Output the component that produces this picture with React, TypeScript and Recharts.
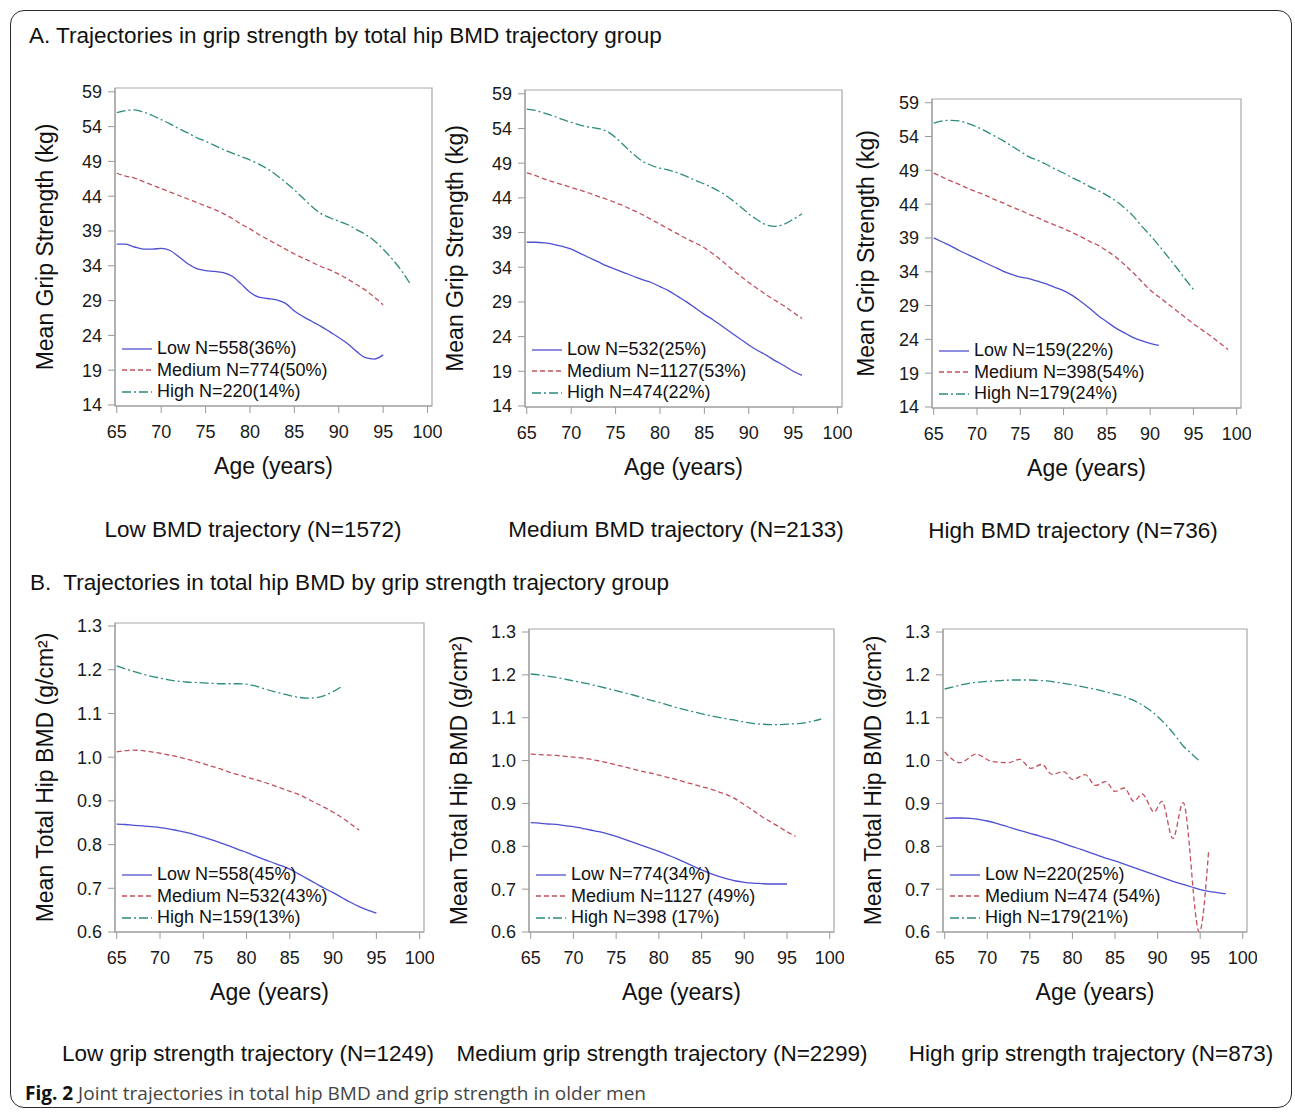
import React from 'react';
import { LineChart, Line, XAxis, YAxis, Legend, ReferenceArea } from 'recharts';

// ages on the x axis (one value per year, series stop where the curve ends)
const ages = [65, 66, 67, 68, 69, 70, 71, 72, 73, 74, 75, 76, 77, 78, 79, 80, 81, 82, 83, 84, 85, 86, 87, 88, 89, 90, 91, 92, 93, 94, 95, 96, 97, 98, 99];
const xTicks = [65, 70, 75, 80, 85, 90, 95, 100];
const gripTicks = [14, 19, 24, 29, 34, 39, 44, 49, 54, 59];
const bmdTicks = [0.6, 0.7, 0.8, 0.9, 1.0, 1.1, 1.2, 1.3];

// A. grip strength (kg) by BMD trajectory group
const a1Low = [37.1, 37.1, 36.7, 36.4, 36.4, 36.5, 36.2, 35.3, 34.3, 33.6, 33.3, 33.2, 33.0, 32.5, 31.4, 30.2, 29.5, 29.3, 29.1, 28.6, 27.5, 26.7, 26.0, 25.3, 24.5, 23.7, 22.8, 21.7, 20.8, 20.6, 21.2];
const a1Medium = [47.3, 46.9, 46.6, 46.1, 45.6, 45.1, 44.6, 44.1, 43.6, 43.1, 42.6, 42.1, 41.5, 40.8, 40.0, 39.3, 38.5, 37.8, 37.1, 36.4, 35.7, 35.1, 34.5, 33.9, 33.4, 32.8, 32.1, 31.3, 30.5, 29.5, 28.4];
const a1High = [56.0, 56.3, 56.4, 56.1, 55.6, 55.0, 54.4, 53.7, 53.1, 52.4, 51.9, 51.3, 50.7, 50.2, 49.7, 49.2, 48.6, 47.9, 47.0, 46.0, 44.9, 43.7, 42.5, 41.5, 40.9, 40.4, 39.9, 39.2, 38.5, 37.6, 36.4, 35.0, 33.4, 31.5];

const a2Low = [37.6, 37.6, 37.5, 37.3, 37.0, 36.6, 36.0, 35.4, 34.8, 34.2, 33.7, 33.2, 32.7, 32.2, 31.8, 31.2, 30.6, 29.8, 29.0, 28.1, 27.2, 26.4, 25.5, 24.6, 23.7, 22.8, 22.0, 21.3, 20.5, 19.8, 19.0, 18.4];
const a2Medium = [47.6, 47.2, 46.7, 46.3, 45.9, 45.5, 45.1, 44.7, 44.2, 43.8, 43.3, 42.8, 42.2, 41.6, 40.9, 40.2, 39.5, 38.8, 38.1, 37.5, 36.8, 35.9, 34.9, 33.8, 32.8, 31.8, 30.9, 30.0, 29.2, 28.4, 27.5, 26.6];
const a2High = [56.8, 56.6, 56.2, 55.8, 55.3, 54.9, 54.5, 54.2, 54.0, 53.6, 52.7, 51.5, 50.3, 49.3, 48.7, 48.3, 48.0, 47.6, 47.1, 46.5, 46.0, 45.4, 44.7, 43.8, 42.8, 41.7, 40.8, 40.1, 39.9, 40.2, 40.9, 41.7];

const a3Low = [39.0, 38.4, 37.8, 37.1, 36.5, 35.9, 35.3, 34.7, 34.1, 33.6, 33.2, 33.0, 32.6, 32.2, 31.7, 31.2, 30.5, 29.6, 28.6, 27.5, 26.6, 25.7, 25.0, 24.3, 23.8, 23.4, 23.1];
const a3Medium = [48.6, 48.0, 47.4, 46.9, 46.3, 45.8, 45.3, 44.7, 44.2, 43.6, 43.1, 42.5, 42.0, 41.4, 40.9, 40.4, 39.8, 39.2, 38.5, 37.9, 37.1, 36.2, 35.1, 33.9, 32.6, 31.3, 30.3, 29.3, 28.3, 27.3, 26.3, 25.4, 24.5, 23.5, 22.5];
const a3High = [56.0, 56.3, 56.4, 56.3, 55.9, 55.4, 54.8, 54.1, 53.4, 52.6, 51.8, 51.0, 50.5, 49.9, 49.2, 48.6, 47.9, 47.3, 46.6, 46.0, 45.3, 44.5, 43.5, 42.3, 40.8, 39.4, 37.9, 36.3, 34.7, 33.0, 31.4];

// B. total hip BMD (g/cm2) by grip strength trajectory group
const b1Low = [0.847, 0.846, 0.844, 0.843, 0.841, 0.839, 0.836, 0.832, 0.828, 0.823, 0.817, 0.811, 0.804, 0.797, 0.789, 0.782, 0.774, 0.766, 0.759, 0.752, 0.744, 0.733, 0.722, 0.711, 0.700, 0.690, 0.679, 0.668, 0.658, 0.650, 0.643];
const b1Medium = [1.012, 1.015, 1.016, 1.015, 1.012, 1.009, 1.005, 1.001, 0.996, 0.991, 0.985, 0.979, 0.973, 0.966, 0.960, 0.954, 0.949, 0.943, 0.936, 0.929, 0.922, 0.915, 0.905, 0.895, 0.885, 0.874, 0.862, 0.848, 0.833];
const b1High = [1.209, 1.202, 1.196, 1.190, 1.185, 1.181, 1.177, 1.174, 1.172, 1.171, 1.170, 1.169, 1.168, 1.168, 1.168, 1.167, 1.163, 1.157, 1.151, 1.146, 1.141, 1.137, 1.135, 1.136, 1.141, 1.150, 1.162];

const b2Low = [0.855, 0.854, 0.852, 0.851, 0.848, 0.846, 0.842, 0.838, 0.834, 0.829, 0.823, 0.816, 0.809, 0.802, 0.795, 0.788, 0.780, 0.772, 0.763, 0.754, 0.745, 0.737, 0.730, 0.724, 0.719, 0.716, 0.714, 0.713, 0.712, 0.712, 0.712];
const b2Medium = [1.015, 1.014, 1.013, 1.012, 1.010, 1.008, 1.006, 1.003, 0.999, 0.995, 0.990, 0.985, 0.980, 0.975, 0.971, 0.966, 0.961, 0.956, 0.950, 0.945, 0.939, 0.934, 0.927, 0.920, 0.910, 0.897, 0.884, 0.870, 0.858, 0.846, 0.834, 0.823];
const b2High = [1.202, 1.200, 1.197, 1.194, 1.190, 1.186, 1.182, 1.178, 1.173, 1.168, 1.163, 1.158, 1.153, 1.147, 1.141, 1.136, 1.130, 1.124, 1.119, 1.114, 1.109, 1.105, 1.101, 1.097, 1.094, 1.090, 1.087, 1.085, 1.084, 1.084, 1.085, 1.086, 1.088, 1.092, 1.097];

const b3Low = [0.865, 0.866, 0.866, 0.865, 0.863, 0.859, 0.854, 0.848, 0.842, 0.836, 0.830, 0.825, 0.819, 0.813, 0.806, 0.799, 0.793, 0.786, 0.779, 0.772, 0.766, 0.759, 0.752, 0.745, 0.738, 0.731, 0.724, 0.717, 0.711, 0.705, 0.699, 0.695, 0.692, 0.689];
// the wavy medium curve is read at its peaks and troughs
const b3MediumAges = [65, 66.8, 68.7, 70.5, 72.5, 73.8, 75.1, 76.4, 77.6, 79.0, 80.0, 81.5, 82.7, 83.9, 85.0, 86.1, 87.2, 88.2, 89.6, 90.5, 91.8, 93.0, 94.9, 96.0];
const b3Medium = [1.020, 0.995, 1.015, 0.998, 0.995, 1.003, 0.982, 0.991, 0.968, 0.974, 0.956, 0.967, 0.942, 0.951, 0.928, 0.936, 0.905, 0.922, 0.880, 0.905, 0.818, 0.902, 0.600, 0.791];
const b3High = [1.167, 1.172, 1.177, 1.181, 1.183, 1.185, 1.186, 1.187, 1.188, 1.188, 1.188, 1.187, 1.186, 1.183, 1.180, 1.177, 1.173, 1.169, 1.165, 1.160, 1.155, 1.150, 1.142, 1.132, 1.119, 1.103, 1.083, 1.060, 1.034, 1.016, 0.997];

const FONT = '"Liberation Sans", Arial, Helvetica, sans-serif';
const STYLES: Record<string, { color: string; dash?: string }> = {
  Low: { color: '#4f4fd3' },
  Medium: { color: '#c2505e', dash: '5 3' },
  High: { color: '#2e8c7c', dash: '9 3 2 3' },
};

const PAD_L = 90;
const PAD_T = 10;
const PAD_R = 10;
const PAD_B = 75;
const X_DOMAIN = [64.8, 100.5];

const toPoints = (values: number[], xs: number[] = ages) => values.map((v, i) => ({ age: xs[i], v }));

type Series = { group: string; name: string; values: number[]; xs?: number[] };

const XTitle = (props: any) => {
  const { viewBox, text } = props;
  const cx = viewBox.x + viewBox.width / 2;
  const cy = viewBox.y + 60;
  return (
    <text x={cx} y={cy} textAnchor="middle" dominantBaseline="central" fontSize={23} fill="#111" fontFamily={FONT}>
      {text}
    </text>
  );
};

const YTitle = (props: any) => {
  const { viewBox, text, gap } = props;
  const cx = viewBox.x + viewBox.width - gap;
  const cy = viewBox.y + viewBox.height / 2;
  return (
    <text x={cx} y={cy} transform={`rotate(-90 ${cx} ${cy})`} textAnchor="middle" dominantBaseline="central" fontSize={23} fill="#111" fontFamily={FONT}>
      {text}
    </text>
  );
};

const LegendBox = ({ series }: { series: Series[] }) => (
  <div style={{ fontFamily: FONT, fontSize: 18, color: '#111' }}>
    {series.map((s) => (
      <div key={s.name} style={{ display: 'flex', alignItems: 'center', height: 21.5 }}>
        <svg width={32} height={10}>
          <line x1={2} x2={32} y1={5} y2={5} stroke={STYLES[s.group].color} strokeWidth={1.3} strokeDasharray={STYLES[s.group].dash} />
        </svg>
        <span style={{ marginLeft: 5, whiteSpace: 'nowrap', lineHeight: '21.5px' }}>{s.name}</span>
      </div>
    ))}
  </div>
);

type PanelProps = {
  left: number; top: number; w: number; h: number;
  yDomain: number[]; yTicks: number[]; yTitle: string; decimals: number; titleGap: number;
  series: Series[];
};

const Panel = (p: PanelProps) => {
  const width = PAD_L + p.w + PAD_R;
  const height = PAD_T + p.h + PAD_B;
  return (
    <div style={{ position: 'absolute', left: p.left - PAD_L, top: p.top - PAD_T }}>
      <LineChart width={width} height={height} margin={{ top: PAD_T, right: PAD_R, left: 0, bottom: 0 }}>
        <XAxis
          type="number" dataKey="age" domain={X_DOMAIN} ticks={xTicks} allowDataOverflow
          height={PAD_B} tickSize={7} tickMargin={12} stroke="#9a9a9a"
          tick={{ fill: '#1a1a1a', fontSize: 18, fontFamily: FONT }}
          label={<XTitle text="Age (years)" />}
        />
        <YAxis
          type="number" domain={p.yDomain} ticks={p.yTicks} allowDataOverflow
          width={PAD_L} tickSize={7} tickMargin={6} stroke="#9a9a9a"
          tick={{ fill: '#1a1a1a', fontSize: 18, fontFamily: FONT }}
          tickFormatter={(v: number) => v.toFixed(p.decimals)}
          label={<YTitle text={p.yTitle} gap={p.titleGap} />}
        />
        {/* frame around the plotting area */}
        <ReferenceArea
          x1={X_DOMAIN[0]} x2={X_DOMAIN[1]} y1={p.yDomain[0]} y2={p.yDomain[1]}
          fill="none" fillOpacity={0} stroke="#a8a8a8" strokeWidth={1.2} ifOverflow="visible"
        />
        <Legend
          layout="vertical" align="center" verticalAlign="middle"
          wrapperStyle={{ left: PAD_L + 5, top: PAD_T + p.h - 68, width: 280 }}
          content={() => <LegendBox series={p.series} />}
        />
        {p.series.map((s) => (
          <Line
            key={s.name}
            data={toPoints(s.values, s.xs)}
            dataKey="v" name={s.name} type="monotone"
            stroke={STYLES[s.group].color} strokeWidth={1.3} strokeDasharray={STYLES[s.group].dash}
            dot={false} activeDot={false} isAnimationActive={false}
          />
        ))}
      </LineChart>
    </div>
  );
};

const GRIP_DOMAIN = [13.85, 59.55];
const BMD_DOMAIN = [0.6, 1.307];
const GRIP_TITLE = 'Mean Grip Strength (kg)';
const BMD_TITLE = 'Mean Total Hip BMD (g/cm²)';

const panels: (PanelProps & { caption: string; captionX: number; captionY: number })[] = [
  {
    left: 115, top: 88, w: 317, h: 318, yDomain: GRIP_DOMAIN, yTicks: gripTicks, yTitle: GRIP_TITLE, decimals: 0, titleGap: 70,
    caption: 'Low BMD trajectory (N=1572)', captionX: 253, captionY: 530,
    series: [
      { group: 'Low', name: 'Low N=558(36%)', values: a1Low },
      { group: 'Medium', name: 'Medium N=774(50%)', values: a1Medium },
      { group: 'High', name: 'High N=220(14%)', values: a1High },
    ],
  },
  {
    left: 525, top: 90, w: 317, h: 317, yDomain: GRIP_DOMAIN, yTicks: gripTicks, yTitle: GRIP_TITLE, decimals: 0, titleGap: 70,
    caption: 'Medium BMD trajectory (N=2133)', captionX: 676, captionY: 530,
    series: [
      { group: 'Low', name: 'Low N=532(25%)', values: a2Low },
      { group: 'Medium', name: 'Medium N=1127(53%)', values: a2Medium },
      { group: 'High', name: 'High N=474(22%)', values: a2High },
    ],
  },
  {
    left: 932, top: 99, w: 309, h: 309, yDomain: GRIP_DOMAIN, yTicks: gripTicks, yTitle: GRIP_TITLE, decimals: 0, titleGap: 66,
    caption: 'High BMD trajectory (N=736)', captionX: 1073, captionY: 531,
    series: [
      { group: 'Low', name: 'Low N=159(22%)', values: a3Low },
      { group: 'Medium', name: 'Medium N=398(54%)', values: a3Medium },
      { group: 'High', name: 'High N=179(24%)', values: a3High },
    ],
  },
  {
    left: 115, top: 623, w: 309, h: 309, yDomain: BMD_DOMAIN, yTicks: bmdTicks, yTitle: BMD_TITLE, decimals: 1, titleGap: 70,
    caption: 'Low grip strength trajectory (N=1249)', captionX: 248, captionY: 1054,
    series: [
      { group: 'Low', name: 'Low N=558(45%)', values: b1Low },
      { group: 'Medium', name: 'Medium N=532(43%)', values: b1Medium },
      { group: 'High', name: 'High N=159(13%)', values: b1High },
    ],
  },
  {
    left: 529, top: 629, w: 305, h: 303, yDomain: BMD_DOMAIN, yTicks: bmdTicks, yTitle: BMD_TITLE, decimals: 1, titleGap: 70,
    caption: 'Medium grip strength trajectory (N=2299)', captionX: 662, captionY: 1054,
    series: [
      { group: 'Low', name: 'Low N=774(34%)', values: b2Low },
      { group: 'Medium', name: 'Medium N=1127 (49%)', values: b2Medium },
      { group: 'High', name: 'High N=398 (17%)', values: b2High },
    ],
  },
  {
    left: 943, top: 629, w: 304, h: 303, yDomain: BMD_DOMAIN, yTicks: bmdTicks, yTitle: BMD_TITLE, decimals: 1, titleGap: 70,
    caption: 'High grip strength trajectory (N=873)', captionX: 1091, captionY: 1054,
    series: [
      { group: 'Low', name: 'Low N=220(25%)', values: b3Low },
      { group: 'Medium', name: 'Medium N=474 (54%)', values: b3Medium, xs: b3MediumAges },
      { group: 'High', name: 'High N=179(21%)', values: b3High },
    ],
  },
];

const textAt = (x: number, y: number, size: number, centered: boolean): React.CSSProperties => ({
  position: 'absolute', left: x, top: y, fontSize: size, lineHeight: 1, whiteSpace: 'pre', color: '#111',
  transform: centered ? 'translate(-50%, -50%)' : 'translateY(-50%)',
});

export default function App() {
  return (
    <div style={{ position: 'absolute', left: 0, top: 0, width: 1295, height: 1113, background: '#fff', fontFamily: FONT, overflow: 'hidden' }}>
      <div style={{ position: 'absolute', left: 10, top: 10, width: 1282, height: 1098, boxSizing: 'border-box', border: '1.5px solid #2a2a2a', borderRadius: 14 }} />
      <div style={textAt(29, 36, 22.5, false)}>A. Trajectories in grip strength by total hip BMD trajectory group</div>
      <div style={textAt(30, 583, 22.5, false)}>{'B.  Trajectories in total hip BMD by grip strength trajectory group'}</div>
      {panels.map((p, i) => (
        <React.Fragment key={i}>
          <Panel {...p} />
          <div style={textAt(p.captionX, p.captionY, 22.5, true)}>{p.caption}</div>
        </React.Fragment>
      ))}
      <div style={{ ...textAt(25, 1093, 19, false), fontFamily: '"Open Sans", "Noto Sans", sans-serif', color: '#444' }}>
        <b style={{ color: '#111' }}>Fig. 2</b> Joint trajectories in total hip BMD and grip strength in older men
      </div>
    </div>
  );
}
